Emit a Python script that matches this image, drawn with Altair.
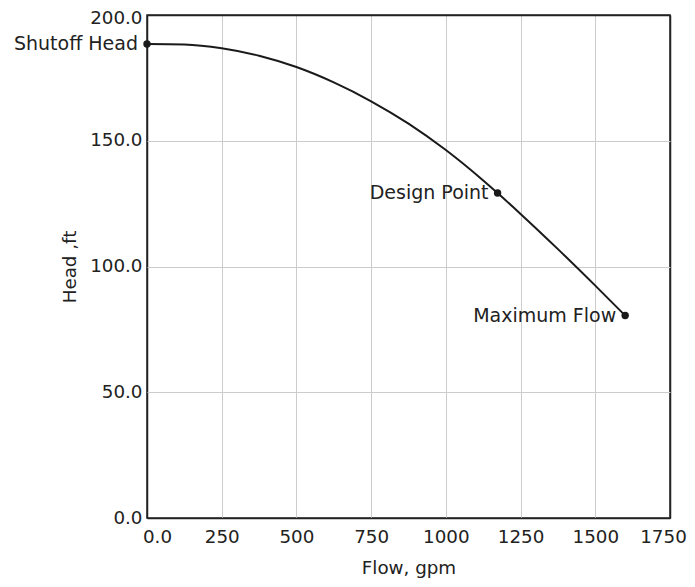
import altair as alt
import pandas as pd

# curve
flow = [0, 125, 250, 375, 500, 625, 750, 875, 1000, 1125, 1173, 1250, 1375, 1500, 1600]
head = [188.5, 188.3, 186.8, 183.8, 179.3, 173.2, 165.7, 156.8, 146.3, 134.2, 129.2, 120.9, 106.9, 92.4, 80.5]

pt_label = ["Shutoff Head", "Design Point", "Maximum Flow"]
pt_flow = [0, 1173, 1600]
pt_head = [188.5, 129.2, 80.5]

x_ticks = [0, 250, 500, 750, 1000, 1250, 1500, 1750]
y_ticks = [0, 50, 100, 150, 200]

curve = pd.DataFrame({"flow": flow, "head": head})
pts = pd.DataFrame({"label": pt_label, "flow": pt_flow, "head": pt_head})

FONT = "DejaVu Sans"
W, H = 523, 503
AX = 18.3
LB = 19
FRAME = "#222222"
GRID = "#cccccc"

x = alt.X("flow:Q", scale=alt.Scale(domain=[0, 1750], nice=False, zero=False),
          axis=alt.Axis(values=x_ticks, title="Flow, gpm",
                        labelExpr="datum.value == 0 ? '0.0' : format(datum.value, 'd')",
                        labelFlush=False,
                        labelOffset={"condition": [{"test": "datum.value == 0", "value": 10},
                                                   {"test": "datum.value == 1750", "value": -7}],
                                     "value": 0},
                        ticks=False, tickSize=0, labelPadding=10, domain=False,
                        labelFont=FONT, labelFontSize=AX, labelColor="#222",
                        titleFont=FONT, titleFontSize=AX, titleColor="#222", titleFontWeight="normal",
                        titleX=W / 2, titleY=50, titleBaseline="middle", titleAlign="center",
                        gridColor={"condition": {"test": "datum.value == 0 || datum.value == 1750", "value": FRAME}, "value": GRID},
                        gridWidth={"condition": {"test": "datum.value == 0 || datum.value == 1750", "value": 1.5}, "value": 1}))
y = alt.Y("head:Q", scale=alt.Scale(domain=[0, 200], nice=False, zero=False),
          axis=alt.Axis(values=y_ticks, title="Head ,ft", format=".1f",
                        labelFlush=False,
                        labelOffset={"condition": {"test": "datum.value == 200", "value": 3}, "value": 0},
                        ticks=False, tickSize=0, labelPadding=5, domain=False,
                        labelFont=FONT, labelFontSize=AX, labelColor="#222",
                        titleFont=FONT, titleFontSize=AX, titleColor="#222", titleFontWeight="normal",
                        titleX=-77, titleY=H / 2, titleAngle=-90, titleBaseline="middle",
                        titleAlign="center",
                        gridColor={"condition": {"test": "datum.value == 0 || datum.value == 200", "value": FRAME}, "value": GRID},
                        gridWidth={"condition": {"test": "datum.value == 0 || datum.value == 200", "value": 1.5}, "value": 1}))

line = alt.Chart(curve).mark_line(color="#1a1a1a", strokeWidth=2, interpolate="monotone").encode(x=x, y=y)
dots = alt.Chart(pts).mark_point(filled=True, color="#1a1a1a", size=55, opacity=1).encode(x="flow:Q", y="head:Q")
text = alt.Chart(pts).mark_text(align="right", baseline="middle", dx=-9, font=FONT,
                                fontSize=LB, color="#222222").encode(x="flow:Q", y="head:Q", text="label:N")

chart = alt.layer(line, dots, text).properties(
    width=W, height=H,
    background="white",
    autosize=alt.AutoSizeParams(type="none"),
    padding={"left": 139, "top": 7, "right": 17, "bottom": 60},
).configure_view(stroke=FRAME, strokeWidth=1.5)

chart.save("out.html", embed_options={"renderer": "svg", "actions": False})
